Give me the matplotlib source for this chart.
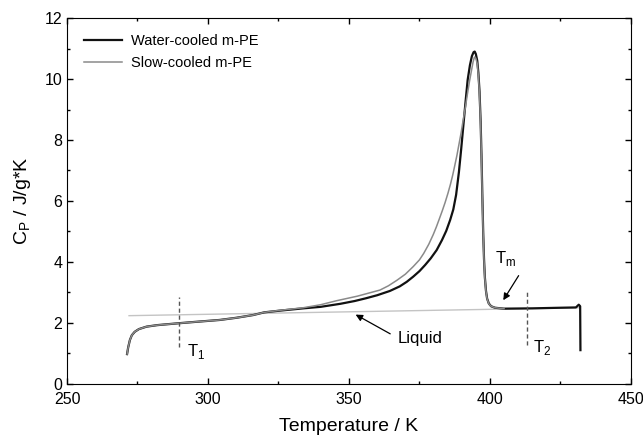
import matplotlib.pyplot as plt
from matplotlib.ticker import MultipleLocator

plt.rcParams['font.family'] = ['Liberation Sans', 'DejaVu Sans']

# water-cooled m-PE (black)
water_T = [271.3, 271.7, 272.3, 273.0, 274.0, 275.5, 278.2, 282.0, 289.4, 296.0,
           304.2, 310.0, 316.0, 320.0, 326.0, 333.8, 340.0, 347.0, 352.0, 356.0,
           360.0, 364.5, 368.0, 370.5, 372.8, 375.0, 377.0, 379.0, 381.1, 383.0,
           384.5, 385.9, 387.0, 388.0, 389.0, 389.8, 390.6, 391.4, 392.1, 392.9,
           393.6, 394.2, 394.6, 395.0, 395.5, 395.9, 396.3, 396.7, 397.0, 397.3,
           397.6, 397.9, 398.2, 398.6, 399.0, 399.6, 400.4, 401.8, 405.0, 415.0,
           425.0, 430.5, 431.5, 432.0, 432.1]
water_cp = [0.98, 1.20, 1.44, 1.60, 1.71, 1.80, 1.88, 1.93, 1.99, 2.04,
            2.10, 2.17, 2.26, 2.35, 2.41, 2.48, 2.53, 2.63, 2.72, 2.81,
            2.91, 3.05, 3.20, 3.35, 3.52, 3.70, 3.90, 4.12, 4.39, 4.72,
            5.02, 5.38, 5.72, 6.20, 6.95, 7.70, 8.50, 9.30, 9.97, 10.45,
            10.75, 10.88, 10.90, 10.82, 10.60, 10.20, 9.60, 8.60, 7.50, 6.20,
            5.00, 4.10, 3.50, 3.05, 2.80, 2.64, 2.55, 2.50, 2.47, 2.48,
            2.50, 2.51, 2.60, 2.55, 1.11]

# slow-cooled m-PE (grey)
slow_T = [271.3, 271.7, 272.3, 273.0, 274.0, 275.5, 278.2, 282.0, 289.4, 296.0,
          304.2, 310.0, 316.0, 320.0, 326.0, 333.8, 340.0, 345.6, 353.0, 361.0,
          364.0, 367.0, 370.0, 372.8, 375.0, 376.5, 378.3, 379.9, 381.0, 382.0,
          383.1, 384.1, 385.1, 386.0, 386.8, 387.5, 388.3, 389.0, 389.8, 390.5,
          391.3, 392.0, 392.8, 393.5, 394.0, 394.5, 395.0, 395.5, 395.9, 396.3,
          396.7, 397.0, 397.3, 397.6, 397.9, 398.2, 398.6, 399.0, 399.6, 400.4,
          401.8, 405.0]
slow_cp = [0.98, 1.20, 1.44, 1.60, 1.71, 1.80, 1.88, 1.93, 1.99, 2.04,
           2.10, 2.17, 2.26, 2.35, 2.42, 2.50, 2.60, 2.73, 2.88, 3.08,
           3.22, 3.40, 3.60, 3.85, 4.07, 4.28, 4.58, 4.90, 5.15, 5.40,
           5.68, 5.95, 6.25, 6.55, 6.85, 7.15, 7.50, 7.85, 8.25, 8.65,
           9.08, 9.50, 9.95, 10.30, 10.55, 10.72, 10.68, 10.50, 10.10, 9.50,
           8.50, 7.40, 6.10, 4.95, 4.05, 3.48, 3.03, 2.79, 2.63, 2.55,
           2.50, 2.47]

# liquid baseline
liquid_T = [272.0, 432.0]
liquid_cp = [2.24, 2.50]

T1 = 289.6
T2 = 413.3

fig = plt.figure(figsize=(6.43, 4.37), dpi=100)
ax = fig.add_axes([0.1042, 0.1213, 0.877, 0.8375])

ax.plot(liquid_T, liquid_cp, color='#c4c4c4', lw=1.0)
ax.plot(water_T, water_cp, color='#111111', lw=1.6, label='Water-cooled m-PE')
ax.plot(slow_T, slow_cp, color='#8a8a8a', lw=1.1, label='Slow-cooled m-PE')

ax.plot([T1, T1], [1.22, 2.86], ls=(0, (3, 2)), color='#555555', lw=1.0)
ax.plot([T2, T2], [1.28, 3.03], ls=(0, (3, 2)), color='#555555', lw=1.0)

ax.text(292.4, 1.05, r'T$_\mathregular{1}$', fontsize=12, va='center', ha='left')
ax.text(415.3, 1.2, r'T$_\mathregular{2}$', fontsize=12, va='center', ha='left')
ax.text(405.4, 4.1, r'T$_\mathregular{m}$', fontsize=12, va='center', ha='center')
ax.text(375.2, 1.5, 'Liquid', fontsize=12, va='center', ha='center')

arrow = dict(arrowstyle='-|>', color='black', lw=0.9, mutation_scale=10)
ax.annotate('', xy=(404.2, 2.67), xytext=(410.7, 3.63), arrowprops=arrow)
ax.annotate('', xy=(351.5, 2.32), xytext=(365.5, 1.6), arrowprops=arrow)

ax.set_xlim(250, 450)
ax.set_ylim(0, 12)
ax.xaxis.set_major_locator(MultipleLocator(50))
ax.xaxis.set_minor_locator(MultipleLocator(25))
ax.yaxis.set_major_locator(MultipleLocator(2))
ax.yaxis.set_minor_locator(MultipleLocator(1))
ax.tick_params(which='both', direction='in', top=True, right=True,
               labeltop=False, labelright=False, labelsize=11.5)
ax.tick_params(which='major', length=4.5, width=1.0)
ax.tick_params(which='minor', length=2.5, width=1.0)
ax.tick_params(axis='x', pad=6)

ax.set_xlabel('Temperature / K', fontsize=14, labelpad=8)
ax.set_ylabel(r'C$_\mathregular{P}$ / J/g*K', fontsize=14, labelpad=8)

ax.legend(loc='upper left', bbox_to_anchor=(0.03, 0.955), frameon=False,
          fontsize=10.5, handlelength=2.6, handletextpad=0.65,
          labelspacing=0.5, borderpad=0, borderaxespad=0)

fig.savefig('out.png', dpi=100)
